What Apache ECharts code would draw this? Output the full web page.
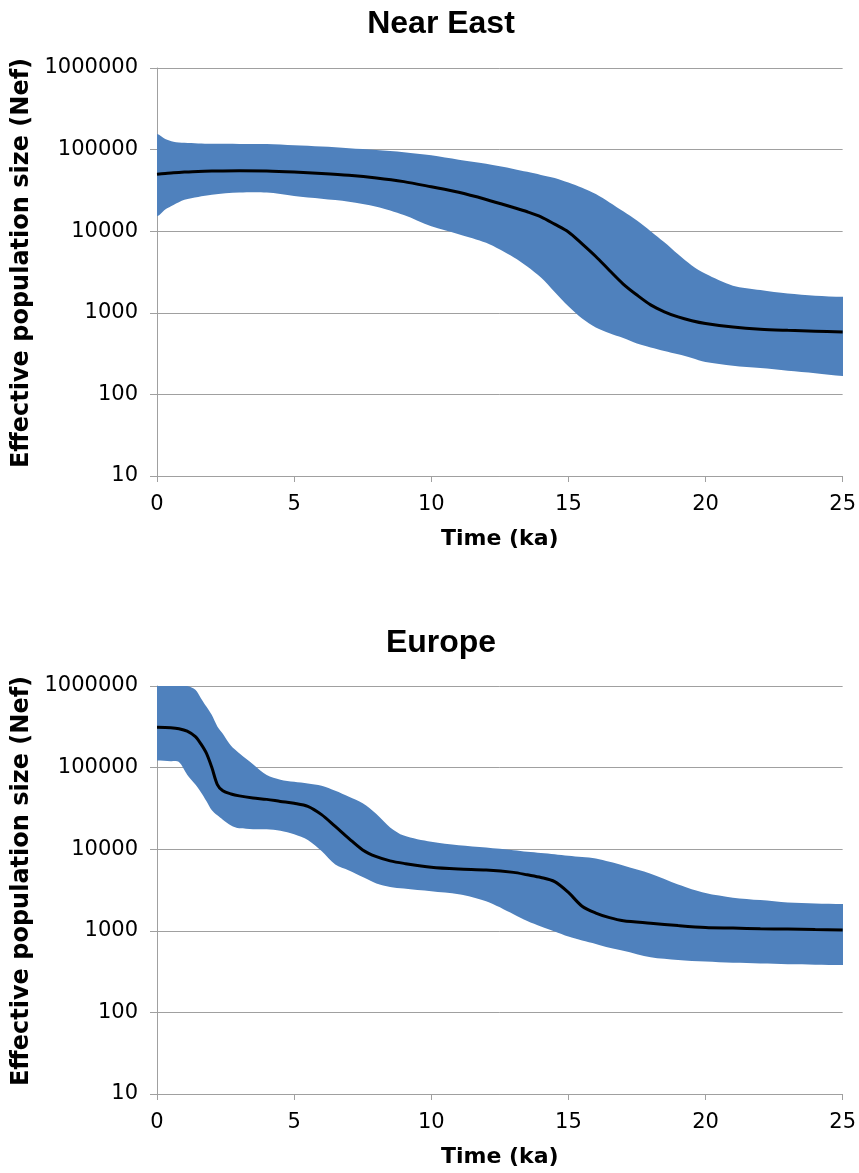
<!DOCTYPE html>
<html>
<head>
<meta charset="utf-8">
<script src="https://cdn.jsdelivr.net/npm/echarts@6/dist/echarts.min.js"></script>
<style>
html,body{margin:0;padding:0;background:#fff;}
#chart{width:859px;height:1173px;}
</style>
</head>
<body>
<div id="chart"></div>
<script>
// ---------- Data ----------
const titles = ['Near East', 'Europe'];
const yAxisName = 'Effective population size (Nef)';
const xAxisName = 'Time (ka)';
const yTickValues = [10, 100, 1000, 10000, 100000, 1000000];

// Near East
const timeNE = [0,0.3,0.6,1,1.5,2,3,4,5,6,7,8,9,10,11,12,13,13.5,14,14.5,15,15.5,16,16.5,17,17.5,18,18.5,19,19.5,20,21,22,23,24,25];
const medianNE = [50000,51000,52000,53000,54000,54500,55000,54500,53000,51000,48500,45000,40500,35000,30000,24500,19500,17300,15000,12200,9800,7000,4900,3300,2250,1650,1250,1030,890,800,740,670,630,610,595,580];
const upperNE = [155000,135000,125000,121000,119000,118000,117500,117000,113000,109000,104000,99000,93000,85000,75000,67000,58000,53500,49000,45000,39500,34000,28500,22500,17500,13500,10000,7300,5200,3800,3000,2150,1900,1720,1620,1570];
const lowerNE = [15300,18500,21000,24300,26300,28000,29700,29700,27000,25000,23000,20000,15800,11500,9200,7200,4800,3700,2700,1800,1200,850,660,560,490,420,375,340,310,280,250,225,210,195,182,168];

// Europe
const timeEU = [0,0.5,0.8,1.1,1.4,1.6,1.8,2.0,2.2,2.4,2.7,3,3.5,4,4.5,5,5.5,6,6.5,7,7.5,8,8.5,9,10,11,12,13,13.5,14,14.5,15,15.5,16,16.5,17,18,19,20,21,22,23,24,25];
const medianEU = [312000,308000,300000,280000,240000,195000,150000,100000,62000,52000,47500,45000,42500,40800,38500,36500,33500,26500,19000,13500,9800,8100,7200,6700,6000,5700,5550,5200,4850,4500,4000,2950,2000,1650,1450,1330,1240,1160,1100,1080,1060,1050,1035,1020];
const upperEU = [1000000,1000000,1000000,1000000,900000,710000,560000,440000,320000,260000,185000,150000,110000,81000,71000,67000,64000,60000,52000,44000,36500,27000,18500,14700,12300,11200,10500,9700,9300,9000,8700,8300,8000,7700,7000,6300,5000,3700,2900,2550,2380,2220,2160,2130];
const lowerEU = [122000,120000,117000,82000,62000,50000,39000,30000,26000,23000,19500,18000,17600,17500,16800,15200,13000,9500,6500,5500,4550,3800,3450,3300,3050,2800,2300,1600,1320,1130,980,850,760,690,620,570,475,440,420,405,398,390,385,380];

// ---------- Chart ----------
const BAND = '#4F81BD';
const GRIDC = '#A0A0A0';
const panels = [
  {time: timeNE, median: medianNE, upper: upperNE, lower: lowerNE, top: 68, titleTop: 8},
  {time: timeEU, median: medianEU, upper: upperEU, lower: lowerEU, top: 686, titleTop: 627}
];

function bandSeries(p, idx) {
  const data = p.time.map((t, i) => [t, p.lower[i], p.upper[i]]);
  return {
    type: 'custom',
    xAxisIndex: idx, yAxisIndex: idx,
    clip: true,
    silent: true,
    encode: {x: 0, y: [1, 2]},
    data: data,
    z: 1,
    renderItem: function (params, api) {
      if (params.dataIndex !== 0) return null;
      const n = p.time.length;
      const up = p.time.map((t, i) => api.coord([t, p.upper[i]]));
      const lo = p.time.map((t, i) => api.coord([t, p.lower[i]]));
      const ext = 30; // extend past plot edges so smoothing corners get clipped away
      const pts = [];
      pts.push([up[0][0] - ext, up[0][1]]);
      up.forEach(q => pts.push(q));
      pts.push([up[n - 1][0] + ext, up[n - 1][1]]);
      pts.push([lo[n - 1][0] + ext, lo[n - 1][1]]);
      for (let i = n - 1; i >= 0; i--) pts.push(lo[i]);
      pts.push([lo[0][0] - ext, lo[0][1]]);
      return {type: 'polygon', shape: {points: pts, smooth: 0.3}, style: {fill: BAND, stroke: null}};
    }
  };
}

const option = {
  animation: false,
  backgroundColor: '#ffffff',
  title: titles.map((t, i) => ({
    text: t,
    left: 441,
    top: panels[i].titleTop,
    textAlign: 'center',
    padding: 0,
    textStyle: {fontFamily: 'Liberation Sans', fontWeight: 'bold', fontSize: 32, color: '#000'}
  })),
  grid: panels.map(p => ({left: 157, right: 14, top: p.top, height: 408, containLabel: false})),
  xAxis: panels.map((p, i) => ({
    type: 'value', gridIndex: i, min: 0, max: 25, interval: 5,
    name: xAxisName, nameLocation: 'middle', nameGap: 52,
    nameTextStyle: {fontFamily: 'DejaVu Sans', fontWeight: 'bold', fontSize: 22, color: '#000'},
    axisLine: {show: true, lineStyle: {color: GRIDC, width: 1}},
    axisTick: {show: true, inside: false, length: 6, lineStyle: {color: GRIDC}},
    axisLabel: {margin: 18, fontFamily: 'DejaVu Sans', fontSize: 21, color: '#000'},
    splitLine: {show: false}
  })),
  yAxis: panels.map((p, i) => ({
    type: 'log', logBase: 10, gridIndex: i, min: yTickValues[0], max: yTickValues[yTickValues.length - 1],
    name: yAxisName, nameLocation: 'middle', nameGap: 116,
    nameTextStyle: {fontFamily: 'DejaVu Sans', fontWeight: 'bold', fontSize: 24, color: '#000', padding: [0, 0, 0, 18]},
    axisLine: {show: true, lineStyle: {color: GRIDC, width: 1}},
    axisTick: {show: true, inside: false, length: 7, lineStyle: {color: GRIDC}},
    axisLabel: {margin: 19, fontFamily: 'DejaVu Sans', fontSize: 21, color: '#000',
      formatter: v => String(Math.round(v))},
    splitLine: {show: true, lineStyle: {color: GRIDC, width: 1}},
    minorTick: {show: false}
  })),
  series: []
};

panels.forEach((p, i) => {
  option.series.push(bandSeries(p, i));
  option.series.push({
    type: 'line', xAxisIndex: i, yAxisIndex: i,
    data: p.time.map((t, k) => [t, p.median[k]]),
    showSymbol: false, symbol: 'none', smooth: 0.3,
    lineStyle: {color: '#000', width: 3},
    z: 3, silent: true
  });
});

const chart = echarts.init(document.getElementById('chart'), null, {renderer: 'canvas'});
chart.setOption(option);
</script>
</body>
</html>
